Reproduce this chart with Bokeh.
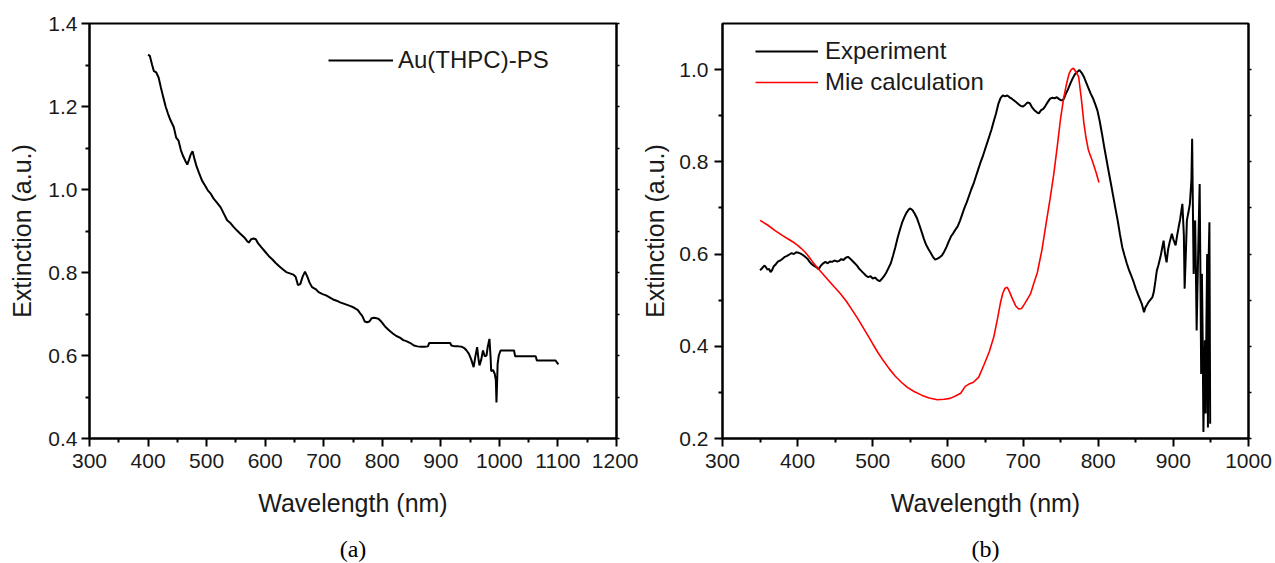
from bokeh.plotting import figure
from bokeh.models import (Range1d, FixedTicker, LinearAxis, Legend, LegendItem,
                          PrintfTickFormatter, CustomJSTickFormatter, Label)
from bokeh.layouts import row, column
from bokeh.embed import file_html
from bokeh.resources import INLINE

# ---------------- data: panel (a) ----------------
a_wavelength = [400, 403, 407, 410, 414, 418, 422, 426, 430, 434, 438, 444, 448, 452, 456, 460, 464, 467,
                470, 473, 476, 479, 483, 487, 492, 497, 502, 507, 512, 518, 524, 530, 535, 540, 546, 552,
                558, 564, 569, 572, 576, 580, 584, 588, 594, 600, 606, 612, 618, 624, 630, 636, 642, 648,
                652, 656, 660, 664, 668, 672, 676, 680, 686, 692, 698, 704, 710, 716, 722, 728, 734, 740,
                746, 752, 758, 762, 766, 770, 774, 778, 782, 786, 790, 794, 798, 802, 806, 812, 818, 824,
                830, 836, 842, 848, 854, 860, 866, 872, 878, 880, 890, 900, 910, 916, 918, 924, 930, 936,
                940, 944, 948, 952, 956, 959, 962, 964, 966, 969, 972, 975, 978, 980, 983, 985, 986, 989,
                992, 994, 995, 996, 997, 999, 1002, 1010, 1020, 1025, 1027, 1040, 1050, 1062, 1064, 1080,
                1096, 1100, 1101]
a_extinction = [1.325, 1.322, 1.300, 1.285, 1.282, 1.270, 1.245, 1.222, 1.200, 1.183, 1.168, 1.150, 1.125,
                1.118, 1.095, 1.080, 1.068, 1.060, 1.072, 1.085, 1.092, 1.075, 1.055, 1.040, 1.022, 1.010,
                0.998, 0.990, 0.978, 0.968, 0.957, 0.940, 0.926, 0.920, 0.910, 0.901, 0.893, 0.885, 0.876,
                0.872, 0.880, 0.882, 0.880, 0.870, 0.860, 0.850, 0.840, 0.832, 0.823, 0.815, 0.808, 0.801,
                0.798, 0.795, 0.790, 0.770, 0.772, 0.790, 0.802, 0.790, 0.775, 0.765, 0.760, 0.752, 0.748,
                0.745, 0.740, 0.735, 0.732, 0.728, 0.725, 0.722, 0.719, 0.715, 0.710, 0.702, 0.695, 0.682,
                0.680, 0.682, 0.690, 0.691, 0.690, 0.688, 0.682, 0.675, 0.668, 0.660, 0.653, 0.647, 0.643,
                0.637, 0.634, 0.630, 0.624, 0.622, 0.621, 0.621, 0.622, 0.630, 0.630, 0.630, 0.630, 0.630,
                0.624, 0.622, 0.622, 0.621, 0.618, 0.612, 0.604, 0.590, 0.572, 0.598, 0.620, 0.595, 0.576,
                0.590, 0.612, 0.598, 0.600, 0.620, 0.640, 0.595, 0.562, 0.565, 0.556, 0.540, 0.487, 0.530,
                0.580, 0.600, 0.612, 0.612, 0.612, 0.612, 0.598, 0.598, 0.598, 0.598, 0.588, 0.588, 0.588,
                0.580, 0.579]
a_xticks = [300, 400, 500, 600, 700, 800, 900, 1000, 1100, 1200]
a_xminor = [350, 450, 550, 650, 750, 850, 950, 1050, 1150]
a_yticks = [0.4, 0.6, 0.8, 1.0, 1.2, 1.4]
a_yminor = [0.5, 0.7, 0.9, 1.1, 1.3]

# ---------------- data: panel (b) ----------------
b_exp_wavelength = [350, 352, 354, 356, 358, 360, 362, 364, 366, 368, 371, 374, 377, 380, 383, 386, 389, 392,
                    395, 398, 401, 404, 407, 410, 413, 416, 419, 422, 425, 428, 431, 434, 437, 440, 443, 446,
                    449, 452, 455, 458, 461, 464, 467, 470, 473, 476, 479, 482, 485, 488, 491, 494, 497, 500,
                    503, 506, 509, 512, 515, 518, 521, 524, 527, 530, 533, 536, 539, 542, 545, 548, 550, 553,
                    556, 559, 562, 565, 568, 571, 574, 577, 580, 583, 586, 589, 592, 595, 598, 601, 604, 607,
                    610, 613, 616, 619, 622, 625, 628, 631, 634, 637, 640, 643, 646, 649, 652, 655, 658, 661,
                    664, 667, 670, 673, 676, 679, 682, 685, 688, 691, 694, 697, 700, 703, 706, 709, 712, 715,
                    718, 721, 724, 727, 730, 733, 736, 739, 742, 745, 748, 751, 754, 757, 760, 763, 766, 769,
                    772, 775, 778, 781, 784, 787, 790, 793, 796, 799, 802, 805, 808, 811, 814, 817, 820, 823,
                    826, 829, 832, 835, 838, 841, 844, 847, 850, 853, 856, 858, 860, 861, 863, 865, 867, 869,
                    872, 874, 876, 878, 880, 883, 885, 887, 889, 891, 893, 895, 898, 900, 903, 905, 907, 909,
                    912, 914, 915, 917, 918, 920, 922, 924, 925, 926, 927, 928, 929, 930, 931, 932, 933, 934,
                    935, 936, 937, 938, 939, 940, 941, 942, 943, 944, 945, 946, 947, 948, 949]
b_exp_extinction = [0.565, 0.568, 0.572, 0.575, 0.571, 0.566, 0.568, 0.561, 0.565, 0.573, 0.578, 0.584, 0.586,
                    0.590, 0.594, 0.596, 0.599, 0.602, 0.600, 0.604, 0.603, 0.601, 0.598, 0.594, 0.590, 0.583,
                    0.578, 0.574, 0.572, 0.567, 0.575, 0.580, 0.583, 0.580, 0.584, 0.583, 0.586, 0.584, 0.585,
                    0.589, 0.587, 0.592, 0.594, 0.590, 0.585, 0.580, 0.575, 0.568, 0.563, 0.558, 0.553, 0.550,
                    0.552, 0.547, 0.549, 0.544, 0.541, 0.546, 0.552, 0.560, 0.570, 0.580, 0.597, 0.615, 0.635,
                    0.652, 0.668, 0.680, 0.690, 0.697, 0.699, 0.695, 0.687, 0.677, 0.663, 0.648, 0.633, 0.620,
                    0.611, 0.603, 0.594, 0.588, 0.590, 0.593, 0.597, 0.605, 0.615, 0.627, 0.638, 0.645, 0.653,
                    0.660, 0.672, 0.686, 0.700, 0.712, 0.726, 0.740, 0.752, 0.767, 0.782, 0.797, 0.810, 0.825,
                    0.840, 0.855, 0.870, 0.888, 0.905, 0.925, 0.938, 0.944, 0.942, 0.944, 0.940, 0.937, 0.933,
                    0.929, 0.925, 0.921, 0.920, 0.924, 0.929, 0.927, 0.918, 0.912, 0.908, 0.905, 0.912, 0.915,
                    0.922, 0.930, 0.937, 0.939, 0.938, 0.940, 0.936, 0.933, 0.936, 0.948, 0.958, 0.970, 0.981,
                    0.990, 0.995, 0.999, 0.993, 0.984, 0.972, 0.960, 0.948, 0.938, 0.925, 0.911, 0.888, 0.861,
                    0.832, 0.805, 0.778, 0.752, 0.725, 0.698, 0.672, 0.642, 0.615, 0.597, 0.580, 0.565, 0.553,
                    0.540, 0.525, 0.512, 0.500, 0.492, 0.480, 0.474, 0.485, 0.490, 0.496, 0.500, 0.506, 0.518,
                    0.540, 0.564, 0.575, 0.595, 0.612, 0.629, 0.600, 0.582, 0.610, 0.625, 0.644, 0.632, 0.619,
                    0.640, 0.658, 0.675, 0.709, 0.640, 0.525, 0.620, 0.673, 0.690, 0.709, 0.760, 0.850, 0.700,
                    0.557, 0.620, 0.673, 0.560, 0.434, 0.520, 0.600, 0.680, 0.752, 0.560, 0.340, 0.557, 0.420,
                    0.214, 0.330, 0.413, 0.254, 0.450, 0.600, 0.224, 0.593, 0.669, 0.232]
b_mie_wavelength = [350, 360, 370, 380, 390, 395, 400, 405, 410, 415, 420, 426, 433, 440, 448, 457, 465, 472,
                    480, 487, 494, 500, 507, 514, 522, 530, 538, 546, 555, 565, 575, 586, 595, 603, 610, 617,
                    623, 628, 634, 641, 648, 655, 661, 666, 670, 673, 676, 679, 682, 685, 690, 694, 698, 702,
                    706, 710, 714, 719, 725, 731, 736, 741, 746, 750, 754, 758, 761, 764, 767, 770, 774, 778,
                    781, 784, 787, 792, 797, 801]
b_mie_extinction = [0.673, 0.663, 0.651, 0.640, 0.630, 0.625, 0.619, 0.612, 0.604, 0.594, 0.583, 0.571, 0.558,
                    0.545, 0.530, 0.514, 0.497, 0.480, 0.460, 0.441, 0.422, 0.405, 0.386, 0.369, 0.351, 0.335,
                    0.322, 0.311, 0.302, 0.294, 0.288, 0.284, 0.285, 0.287, 0.292, 0.298, 0.313, 0.318, 0.322,
                    0.333, 0.360, 0.388, 0.420, 0.460, 0.495, 0.515, 0.526, 0.528, 0.518, 0.506, 0.488, 0.481,
                    0.482, 0.492, 0.503, 0.514, 0.535, 0.560, 0.608, 0.670, 0.720, 0.775, 0.840, 0.895, 0.938,
                    0.970, 0.990, 1.000, 1.003, 0.996, 0.984, 0.930, 0.883, 0.850, 0.825, 0.803, 0.778, 0.755]
b_xticks = [300, 400, 500, 600, 700, 800, 900, 1000]
b_xminor = [350, 450, 550, 650, 750, 850, 950]
b_yticks = [0.2, 0.4, 0.6, 0.8, 1.0]
b_yminor = [0.3, 0.5, 0.7, 0.9]

FONT = "Liberation Sans"


def style_axis(ax, label_standoff, axis_label_standoff):
    ax.axis_line_width = 2
    ax.axis_line_color = "black"
    ax.major_tick_line_width = 2
    ax.minor_tick_line_width = 2
    ax.major_tick_line_color = "black"
    ax.minor_tick_line_color = "black"
    ax.major_tick_in = 0
    ax.major_tick_out = 8
    ax.minor_tick_in = 0
    ax.minor_tick_out = 4
    ax.major_label_text_font = FONT
    ax.major_label_text_font_size = "21px"
    ax.major_label_text_color = "#1a1a1a"
    ax.major_label_standoff = label_standoff
    ax.axis_label_text_font = FONT
    ax.axis_label_text_font_size = "25px"
    ax.axis_label_text_font_style = "normal"
    ax.axis_label_text_color = "#1a1a1a"
    ax.axis_label_standoff = axis_label_standoff


def make_panel(width, left, right, xr, yr, xt, xm, yt, ym, ylab_standoff):
    p = figure(width=width, height=533, x_range=Range1d(*xr), y_range=Range1d(*yr),
               min_border_left=left, min_border_right=right, min_border_top=23, min_border_bottom=95,
               output_backend="svg", toolbar_location=None)
    p.grid.visible = False
    p.outline_line_color = "black"
    p.outline_line_width = 2
    p.background_fill_color = "white"
    p.border_fill_color = "white"

    p.xaxis.ticker = FixedTicker(ticks=xt, minor_ticks=xm)
    p.yaxis.ticker = FixedTicker(ticks=yt, minor_ticks=ym)
    p.yaxis.formatter = PrintfTickFormatter(format="%.1f")
    p.xaxis.axis_label = "Wavelength (nm)"
    p.yaxis.axis_label = "Extinction (a.u.)"
    style_axis(p.xaxis[0], 7, 18)
    style_axis(p.yaxis[0], ylab_standoff[0], ylab_standoff[1])

    ra = LinearAxis(ticker=FixedTicker(ticks=yt, minor_ticks=ym),
                    formatter=CustomJSTickFormatter(code="return ''"))
    ra.axis_line_width = 2
    ra.major_tick_line_width = 1.5
    ra.minor_tick_line_width = 1.5
    ra.major_tick_in = 0
    ra.major_tick_out = 3
    ra.minor_tick_in = 0
    ra.minor_tick_out = 3
    ra.major_label_standoff = 0
    p.add_layout(ra, "right")
    return p


def make_caption(width, left, right, xr, caption):
    c = figure(width=width, height=30, x_range=Range1d(*xr), y_range=Range1d(0, 1),
               min_border_left=left, min_border_right=right, min_border_top=0, min_border_bottom=0,
               x_axis_type=None, y_axis_type=None, output_backend="svg", toolbar_location=None)
    c.grid.visible = False
    c.outline_line_color = None
    c.add_layout(Label(x=0.5 * (xr[0] + xr[1]), y=15, y_units="screen", text=caption,
                       text_font="Liberation Serif", text_font_size="24px", text_align="center",
                       text_baseline="middle", text_color="black"))
    return c


# ---------------- panel (a) ----------------
pa = make_panel(638, 89, 22, (300, 1200), (0.4, 1.4), a_xticks, a_xminor, a_yticks, a_yminor, (4, 9))
ra_line = pa.line(a_wavelength, a_extinction, line_color="black", line_width=2)
leg_a = Legend(items=[LegendItem(label="Au(THPC)-PS", renderers=[ra_line])],
               location=(239, 364), glyph_width=65, glyph_height=24, label_height=24,
               label_standoff=5, padding=0, margin=0, spacing=3,
               label_text_font=FONT, label_text_font_size="24px", label_text_color="#1a1a1a",
               border_line_alpha=0, background_fill_alpha=0)
pa.add_layout(leg_a)
ca = make_caption(638, 89, 22, (300, 1200), "(a)")

# ---------------- panel (b) ----------------
pb = make_panel(637, 84, 27, (300, 1000), (0.2, 1.1), b_xticks, b_xminor, b_yticks, b_yminor, (6, 7))
r_exp = pb.line(b_exp_wavelength, b_exp_extinction, line_color="black", line_width=2)
r_mie = pb.line(b_mie_wavelength, b_mie_extinction, line_color="#ff0000", line_width=1.6)
leg_b = Legend(items=[LegendItem(label="Experiment", renderers=[r_exp]),
                      LegendItem(label="Mie calculation", renderers=[r_mie])],
               location=(33, 342), glyph_width=63, glyph_height=24, label_height=24,
               label_standoff=7, padding=0, margin=0, spacing=3,
               label_text_font=FONT, label_text_font_size="24px", label_text_color="#1a1a1a",
               border_line_alpha=0, background_fill_alpha=0)
pb.add_layout(leg_b)
cb = make_caption(637, 84, 27, (300, 1000), "(b)")

layout = column(row(pa, pb), row(ca, cb))
open("out.html", "w").write(file_html(layout, INLINE))
